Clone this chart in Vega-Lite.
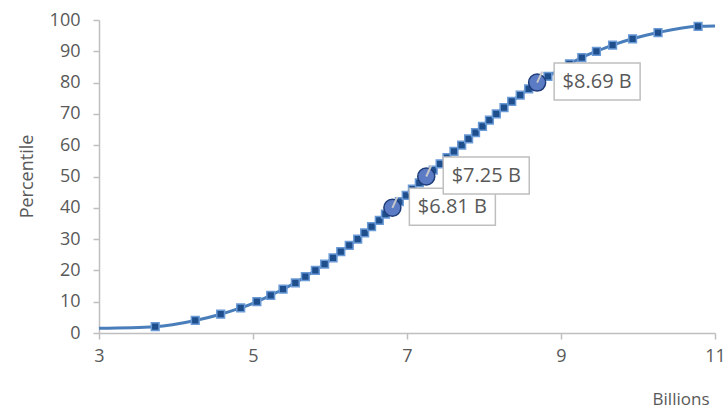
{
  "$schema": "https://vega.github.io/schema/vega-lite/v6.json",
  "width": 616,
  "height": 313,
  "autosize": {"type": "none"},
  "padding": {"left": 99, "top": 20, "right": 12, "bottom": 80},
  "background": "white",
  "config": {
    "view": {"stroke": null},
    "font": "Open Sans"
  },
  "datasets": {
    "curve": [
      {"b": 3.0, "p": 1.5, "m": false},
      {"b": 3.73, "p": 2, "m": true},
      {"b": 4.25, "p": 4, "m": true},
      {"b": 4.58, "p": 6, "m": true},
      {"b": 4.84, "p": 8, "m": true},
      {"b": 5.05, "p": 10, "m": true},
      {"b": 5.23, "p": 12, "m": true},
      {"b": 5.39, "p": 14, "m": true},
      {"b": 5.55, "p": 16, "m": true},
      {"b": 5.68, "p": 18, "m": true},
      {"b": 5.81, "p": 20, "m": true},
      {"b": 5.93, "p": 22, "m": true},
      {"b": 6.04, "p": 24, "m": true},
      {"b": 6.14, "p": 26, "m": true},
      {"b": 6.25, "p": 28, "m": true},
      {"b": 6.36, "p": 30, "m": true},
      {"b": 6.45, "p": 32, "m": true},
      {"b": 6.54, "p": 34, "m": true},
      {"b": 6.64, "p": 36, "m": true},
      {"b": 6.72, "p": 38, "m": true},
      {"b": 6.81, "p": 40, "m": true},
      {"b": 6.90, "p": 42, "m": true},
      {"b": 6.99, "p": 44, "m": true},
      {"b": 7.07, "p": 46, "m": true},
      {"b": 7.16, "p": 48, "m": true},
      {"b": 7.25, "p": 50, "m": true},
      {"b": 7.34, "p": 52, "m": true},
      {"b": 7.43, "p": 54, "m": true},
      {"b": 7.52, "p": 56, "m": true},
      {"b": 7.61, "p": 58, "m": true},
      {"b": 7.71, "p": 60, "m": true},
      {"b": 7.80, "p": 62, "m": true},
      {"b": 7.89, "p": 64, "m": true},
      {"b": 7.98, "p": 66, "m": true},
      {"b": 8.07, "p": 68, "m": true},
      {"b": 8.16, "p": 70, "m": true},
      {"b": 8.26, "p": 72, "m": true},
      {"b": 8.36, "p": 74, "m": true},
      {"b": 8.47, "p": 76, "m": true},
      {"b": 8.58, "p": 78, "m": true},
      {"b": 8.69, "p": 80, "m": true},
      {"b": 8.83, "p": 82, "m": true},
      {"b": 8.97, "p": 84, "m": true},
      {"b": 9.11, "p": 86, "m": true},
      {"b": 9.27, "p": 88, "m": true},
      {"b": 9.46, "p": 90, "m": true},
      {"b": 9.67, "p": 92, "m": true},
      {"b": 9.93, "p": 94, "m": true},
      {"b": 10.26, "p": 96, "m": true},
      {"b": 10.78, "p": 98, "m": true},
      {"b": 11.0, "p": 98.1, "m": false}
    ],
    "labels": [
      {"b": 6.81, "p": 40, "label": "$6.81 B"},
      {"b": 7.25, "p": 50, "label": "$7.25 B"},
      {"b": 8.69, "p": 80, "label": "$8.69 B"}
    ]
  },
  "encoding": {
    "x": {"field": "b", "type": "quantitative", "scale": {"domain": [3, 11], "nice": false},
      "axis": {"values": [3, 5, 7, 9, 11], "format": "d", "labelOverlap": false, "labelFlush": false, "grid": false, "domainColor": "#bfbfbf", "tickColor": "#bfbfbf", "domainWidth": 1.5, "tickWidth": 1.5, "labelColor": "#595959", "titleColor": "#595959", "labelFontSize": 18, "titleFontSize": 17, "titleFontWeight": "normal", "labelFont": "Open Sans", "titleFont": "Open Sans", "labelPadding": 8, "tickSize": 6, "title": "Billions", "titleAnchor": "end", "titleAlign": "right", "titleX": 610, "titleY": 75, "titleBaseline": "bottom"}},
    "y": {"field": "p", "type": "quantitative", "scale": {"domain": [0, 100], "nice": false},
      "axis": {"values": [0, 10, 20, 30, 40, 50, 60, 70, 80, 90, 100], "format": "d", "labelOverlap": false, "labelFlush": false, "grid": false, "domainColor": "#bfbfbf", "tickColor": "#bfbfbf", "domainWidth": 1.5, "tickWidth": 1.5, "labelColor": "#595959", "titleColor": "#595959", "labelFontSize": 18, "titleFontSize": 18, "titleFontWeight": "normal", "labelFont": "Open Sans", "titleFont": "Open Sans", "labelPadding": 13, "tickSize": 6, "title": "Percentile", "titleX": -72, "titleY": 156, "titleAngle": -90, "titleAlign": "center", "titleBaseline": "middle"}}
  },
  "layer": [
    {
      "data": {"name": "curve"},
      "mark": {"type": "line", "interpolate": "monotone", "color": "#4a7ebb", "strokeWidth": 3}
    },
    {
      "data": {"name": "curve"},
      "transform": [{"filter": "datum.m"}],
      "mark": {"type": "point", "shape": "square", "filled": true, "size": 60, "color": "#1f4e8c", "stroke": "#6a9ad6", "strokeWidth": 1.5, "opacity": 1}
    },
    {
      "data": {"name": "labels"},
      "mark": {"type": "point", "shape": "circle", "filled": true, "size": 290, "fill": "#5b7cc4", "stroke": "#1f3d7a", "strokeWidth": 1.5, "opacity": 1}
    },
    {
      "data": {"name": "labels"},
      "mark": {"type": "rule", "color": "#c8c8c8", "strokeWidth": 2, "x2Offset": 5, "y2Offset": -11},
      "encoding": {
        "x2": {"field": "b"},
        "y2": {"field": "p"}
      }
    },
    {
      "data": {"name": "labels"},
      "mark": {"type": "rect", "width": 86, "height": 37, "xOffset": 60, "yOffset": -1, "fill": "white", "stroke": "#bfbfbf", "strokeWidth": 1.5}
    },
    {
      "data": {"name": "labels"},
      "mark": {"type": "text", "align": "center", "baseline": "middle", "dx": 60, "dy": -1, "fontSize": 20, "color": "#595959", "font": "Open Sans"},
      "encoding": {
        "text": {"field": "label"}
      }
    }
  ]
}
